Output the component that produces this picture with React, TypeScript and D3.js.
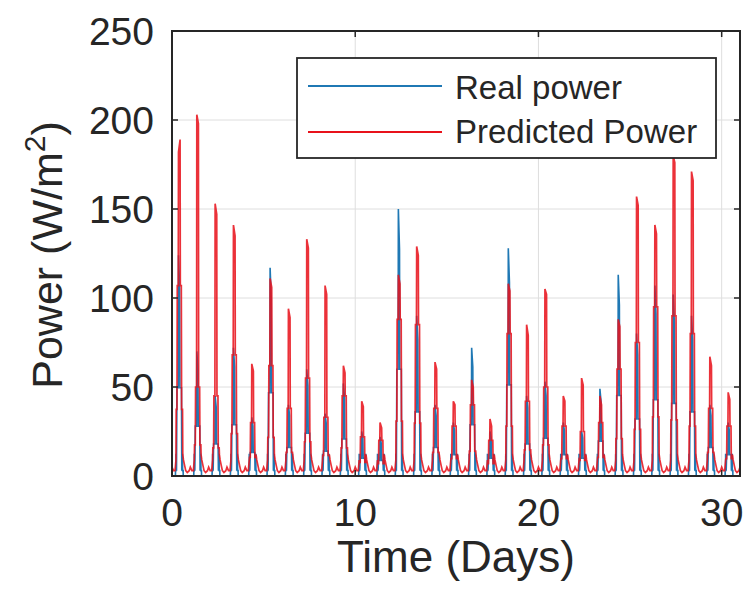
import React from "react";
import * as d3 from "d3";

// ---- data ----
const dayIndex = [0,1,2,3,4,5,6,7,8,9,10,11,12,13,14,15,16,17,18,19,20,21,22,23,24,25,26,27,28,29,30];
const predFirst = [182,203,153,141,63,111,94,133,107,62,42,30,113,129,64,42,54,32,108,85,105,45,55,45,88,157,141,180,171,67,47];
const predSecond = [189,198,147,135,59,106,89,128,102,58,39,27,108,124,60,40,50,28,104,79,102,42,51,40,84,152,136,176,166,62,43];
const predTail = [107,50,45,68,30,62,38,55,33,45,22,20,88,85,38,28,40,20,80,42,50,28,25,30,60,75,95,90,80,38,28];
const realPeak = [124,70,45,72,33,117,40,60,35,52,25,22,150,90,40,30,72,25,128,45,53,30,25,49,113,80,107,102,90,40,30];

const xTicks = [0, 10, 20, 30];
const yTicks = [0, 50, 100, 150, 200, 250];
const xDomain = [0, 31];
const yDomain = [0, 250];
const legendLabels = ["Real power", "Predicted Power"];

// ---- layout / style ----
const W = 747, H = 594;
const L = 172, R = 740, T = 31, B = 476;
const RED = "#e8121b";
const BLUE = "#1f78b4";
const FONT = "'Liberation Sans', Arial, Helvetica, sans-serif";

type Pt = { t: number; v: number };

function buildPred(): Pt[] {
  const pts: Pt[] = [];
  dayIndex.forEach((d, i) => {
    const A = predFirst[i], Bv = predSecond[i], Tl = predTail[i];
    const prof: [number, number][] = [
      [0, 5], [2, 3], [4, 3], [4.6, 6], [5.2, 9], [5.5, 0.35 * Tl], [6.5, 0.35 * Tl], [6.9, Tl], [8.2, Tl], [8.5, A], [10.6, Bv],
      [10.9, Tl], [12.2, Tl], [12.6, 0.35 * Tl], [13.8, 0.35 * Tl], [14.1, 12], [15, 9], [16.5, 6], [18, 3], [20, 2], [22.5, 3],
    ];
    prof.forEach(([h, v]) => pts.push({ t: d + h / 24, v }));
  });
  pts.push({ t: 31, v: 5 });
  return pts;
}

function buildReal(): Pt[] {
  const pts: Pt[] = [];
  dayIndex.forEach((d, i) => {
    const Rp = realPeak[i];
    const prof: [number, number][] = [
      [0, 0], [4.5, 0], [4.6, 3], [5.1, 3], [5.2, 12], [5.8, 12], [5.9, 3], [6.5, 0.4 * Rp], [8.2, 0.4 * Rp], [8.5, Rp], [10, 0.85 * Rp],
      [10.4, 0.4 * Rp], [12.4, 0.4 * Rp], [12.8, 3], [13.2, 12], [13.8, 12], [13.9, 3], [14.6, 3], [14.7, 0], [24, 0],
    ];
    prof.forEach(([h, v]) => pts.push({ t: d + h / 24, v }));
  });
  return pts;
}

export default function App() {
  const x = d3.scaleLinear().domain(xDomain).range([L, R]);
  const y = d3.scaleLinear().domain(yDomain).range([B, T]);
  const line = d3.line<Pt>().x((p) => x(Math.min(p.t, xDomain[1]))).y((p) => y(p.v));
  const pred = buildPred().filter((p) => p.t <= xDomain[1]);
  const real = buildReal().filter((p) => p.t <= xDomain[1]);

  return (
    <div style={{ position: "fixed", left: 0, top: 0 }}>
      <svg width={W} height={H} style={{ display: "block", background: "#fff" }}>
        <rect x={0} y={0} width={W} height={H} fill="#fff" />
        {/* grid */}
        {xTicks.map((t) => (
          <line key={"gx" + t} x1={x(t)} x2={x(t)} y1={T} y2={B} stroke="#dedede" strokeWidth={1} />
        ))}
        {yTicks.map((t) => (
          <line key={"gy" + t} x1={L} x2={R} y1={y(t)} y2={y(t)} stroke="#dedede" strokeWidth={1} />
        ))}
        <defs>
          <clipPath id="plotclip">
            <rect x={L} y={T} width={R - L} height={B - T} />
          </clipPath>
        </defs>
        <g clipPath="url(#plotclip)">
          <path d={line(real) || ""} fill="none" stroke={BLUE} strokeWidth={1.6} />
          <path d={line(pred) || ""} fill="none" stroke={RED} strokeWidth={1.7} strokeOpacity={0.87} />
        </g>
        {/* frame */}
        <rect x={L} y={T} width={R - L} height={B - T} fill="none" stroke="#262626" strokeWidth={2} />
        {/* ticks */}
        {xTicks.map((t) => (
          <g key={"tx" + t}>
            <line x1={x(t)} x2={x(t)} y1={B} y2={B - 6} stroke="#262626" strokeWidth={1.5} />
            <line x1={x(t)} x2={x(t)} y1={T} y2={T + 6} stroke="#262626" strokeWidth={1.5} />
            <text x={x(t)} y={526} textAnchor="middle" fontFamily={FONT} fontSize={39} fill="#262626">{t}</text>
          </g>
        ))}
        {yTicks.map((t) => (
          <g key={"ty" + t}>
            <line x1={L} x2={L + 6} y1={y(t)} y2={y(t)} stroke="#262626" strokeWidth={1.5} />
            <line x1={R} x2={R - 6} y1={y(t)} y2={y(t)} stroke="#262626" strokeWidth={1.5} />
            <text x={154} y={y(t)} dy="0.36em" textAnchor="end" fontFamily={FONT} fontSize={39} fill="#262626">{t}</text>
          </g>
        ))}
        {/* axis labels */}
        <text x={456} y={572} textAnchor="middle" fontFamily={FONT} fontSize={44} fill="#262626">Time (Days)</text>
        <text transform={`translate(62, 255) rotate(-90)`} textAnchor="middle" fontFamily={FONT} fontSize={43} fill="#262626">
          Power (W/m<tspan dy={-17} fontSize={30}>2</tspan><tspan dy={17}>)</tspan>
        </text>
        {/* legend */}
        <rect x={297} y={58} width={419} height={100} fill="#fff" stroke="#262626" strokeWidth={1.8} />
        <line x1={308} x2={442} y1={86} y2={86} stroke={BLUE} strokeWidth={2} />
        <line x1={308} x2={442} y1={132} y2={132} stroke={RED} strokeWidth={2} />
        <text x={455} y={99} fontFamily={FONT} fontSize={33} fill="#262626">{legendLabels[0]}</text>
        <text x={455} y={143} fontFamily={FONT} fontSize={33} fill="#262626">{legendLabels[1]}</text>
      </svg>
    </div>
  );
}
